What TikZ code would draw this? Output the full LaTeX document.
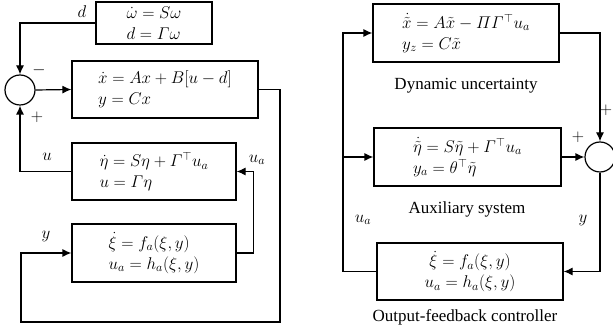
\RequirePackage{fix-cm}
\documentclass[tikz,border=0pt]{standalone}
\usepackage{amsmath}
\usepackage{fontspec}
\setmainfont{Liberation Serif}
\usetikzlibrary{arrows.meta}

\tikzset{
  sysbox/.style={draw, line width=1.2pt, align=left, inner sep=0pt},
  sumnode/.style={draw, circle, line width=1.2pt, minimum size=30pt, inner sep=0pt},
  sig/.style={line width=1.2pt, ->},
}

\begin{document}
\begin{tikzpicture}[x=1pt, y=-1pt, >={Latex[length=9pt,width=8pt]}, font=\fontsize{17}{21}\selectfont]
  \useasboundingbox (0,0) rectangle (613,336);

  % Left: closed loop with exosystem
  \node[sysbox, minimum width=116, minimum height=42] (exo) at (154,23)
    {$\dot\omega = S\omega$\\ $d = \varGamma\omega$};
  \node[sysbox, minimum width=186, minimum height=57] (plant) at (165,89.5)
    {$\dot x = Ax + B[u - d]$\\ $y = Cx$};
  \node[sysbox, minimum width=164, minimum height=57] (imod) at (154,171.5)
    {$\dot\eta = S\eta + \varGamma^{\top}u_a$\\ $u = \varGamma\eta$};
  \node[sysbox, minimum width=164, minimum height=58] (ctrl) at (154,253)
    {$\dot\xi = f_a(\xi,y)$\\ $u_a = h_a(\xi,y)$};
  \node[sumnode] (sumL) at (20,90) {};

  % Left signals
  \coordinate (loopR) at (280,322);
  \coordinate (loopL) at (21,322);
  \draw[sig] (exo.west) -| (sumL.north);
  \draw[sig] (sumL.east) -- (plant.west);
  \draw[sig] (plant.east) -| (loopR) -- (loopL) |- (ctrl.west);
  \draw[sig] (ctrl.east) -- ++(17,0) |- (imod.east);
  \draw[sig] (imod.west) -| (sumL.south);

  % Left labels
  \node (lblD) at (82,12) {$d$};
  \node (lblMinus) at (39,70) {$-$};
  \node (lblPlus) at (37,117) {$+$};
  \node (lblU) at (47,157) {$u$};
  \node (lblUa) at (257,160) {$u_a$};
  \node (lblY) at (46,236) {$y$};

  % Right: interconnection with dynamic uncertainty
  \node[sysbox, minimum width=186, minimum height=58] (dyn) at (466,33)
    {$\dot{\tilde x} = A\tilde x - \varPi\varGamma^{\top}u_a$\\ $y_z = C\tilde x$};
  \node[sysbox, minimum width=187, minimum height=58] (auxsys) at (467.5,157)
    {$\dot{\tilde\eta} = S\tilde\eta + \varGamma^{\top}u_a$\\ $y_a = \theta^{\top}\tilde\eta$};
  \node[sysbox, align=center, minimum width=186, minimum height=57] (ofc) at (470,271.5)
    {$\dot\xi = f_a(\xi,y)$\\ $u_a = h_a(\xi,y)$};
  \node[sumnode] (sumR) at (600,157) {};

  \node (capDyn) at (466,86) {Dynamic uncertainty};
  \node (capAux) at (467,209) {Auxiliary system};
  \node (capOfc) at (465,317) {Output-feedback controller};

  % Right signals
  \coordinate (fb) at (343,271.5);
  \draw[sig] (dyn.east) -| (sumR.north);
  \draw[sig] (auxsys.east) -- (sumR.west);
  \draw[sig] (sumR.south) |- (ofc.east);
  \draw[sig] (ofc.west) -- (fb) |- (dyn.west);
  \draw[sig] (fb |- auxsys.west) -- (auxsys.west);

  % Right labels
  \node (lblPlusT) at (606,110) {$+$};
  \node (lblPlusL) at (578,137) {$+$};
  \node (lblYR) at (583,220) {$y$};
  \node (lblUaR) at (363,220) {$u_a$};
\end{tikzpicture}
\end{document}
